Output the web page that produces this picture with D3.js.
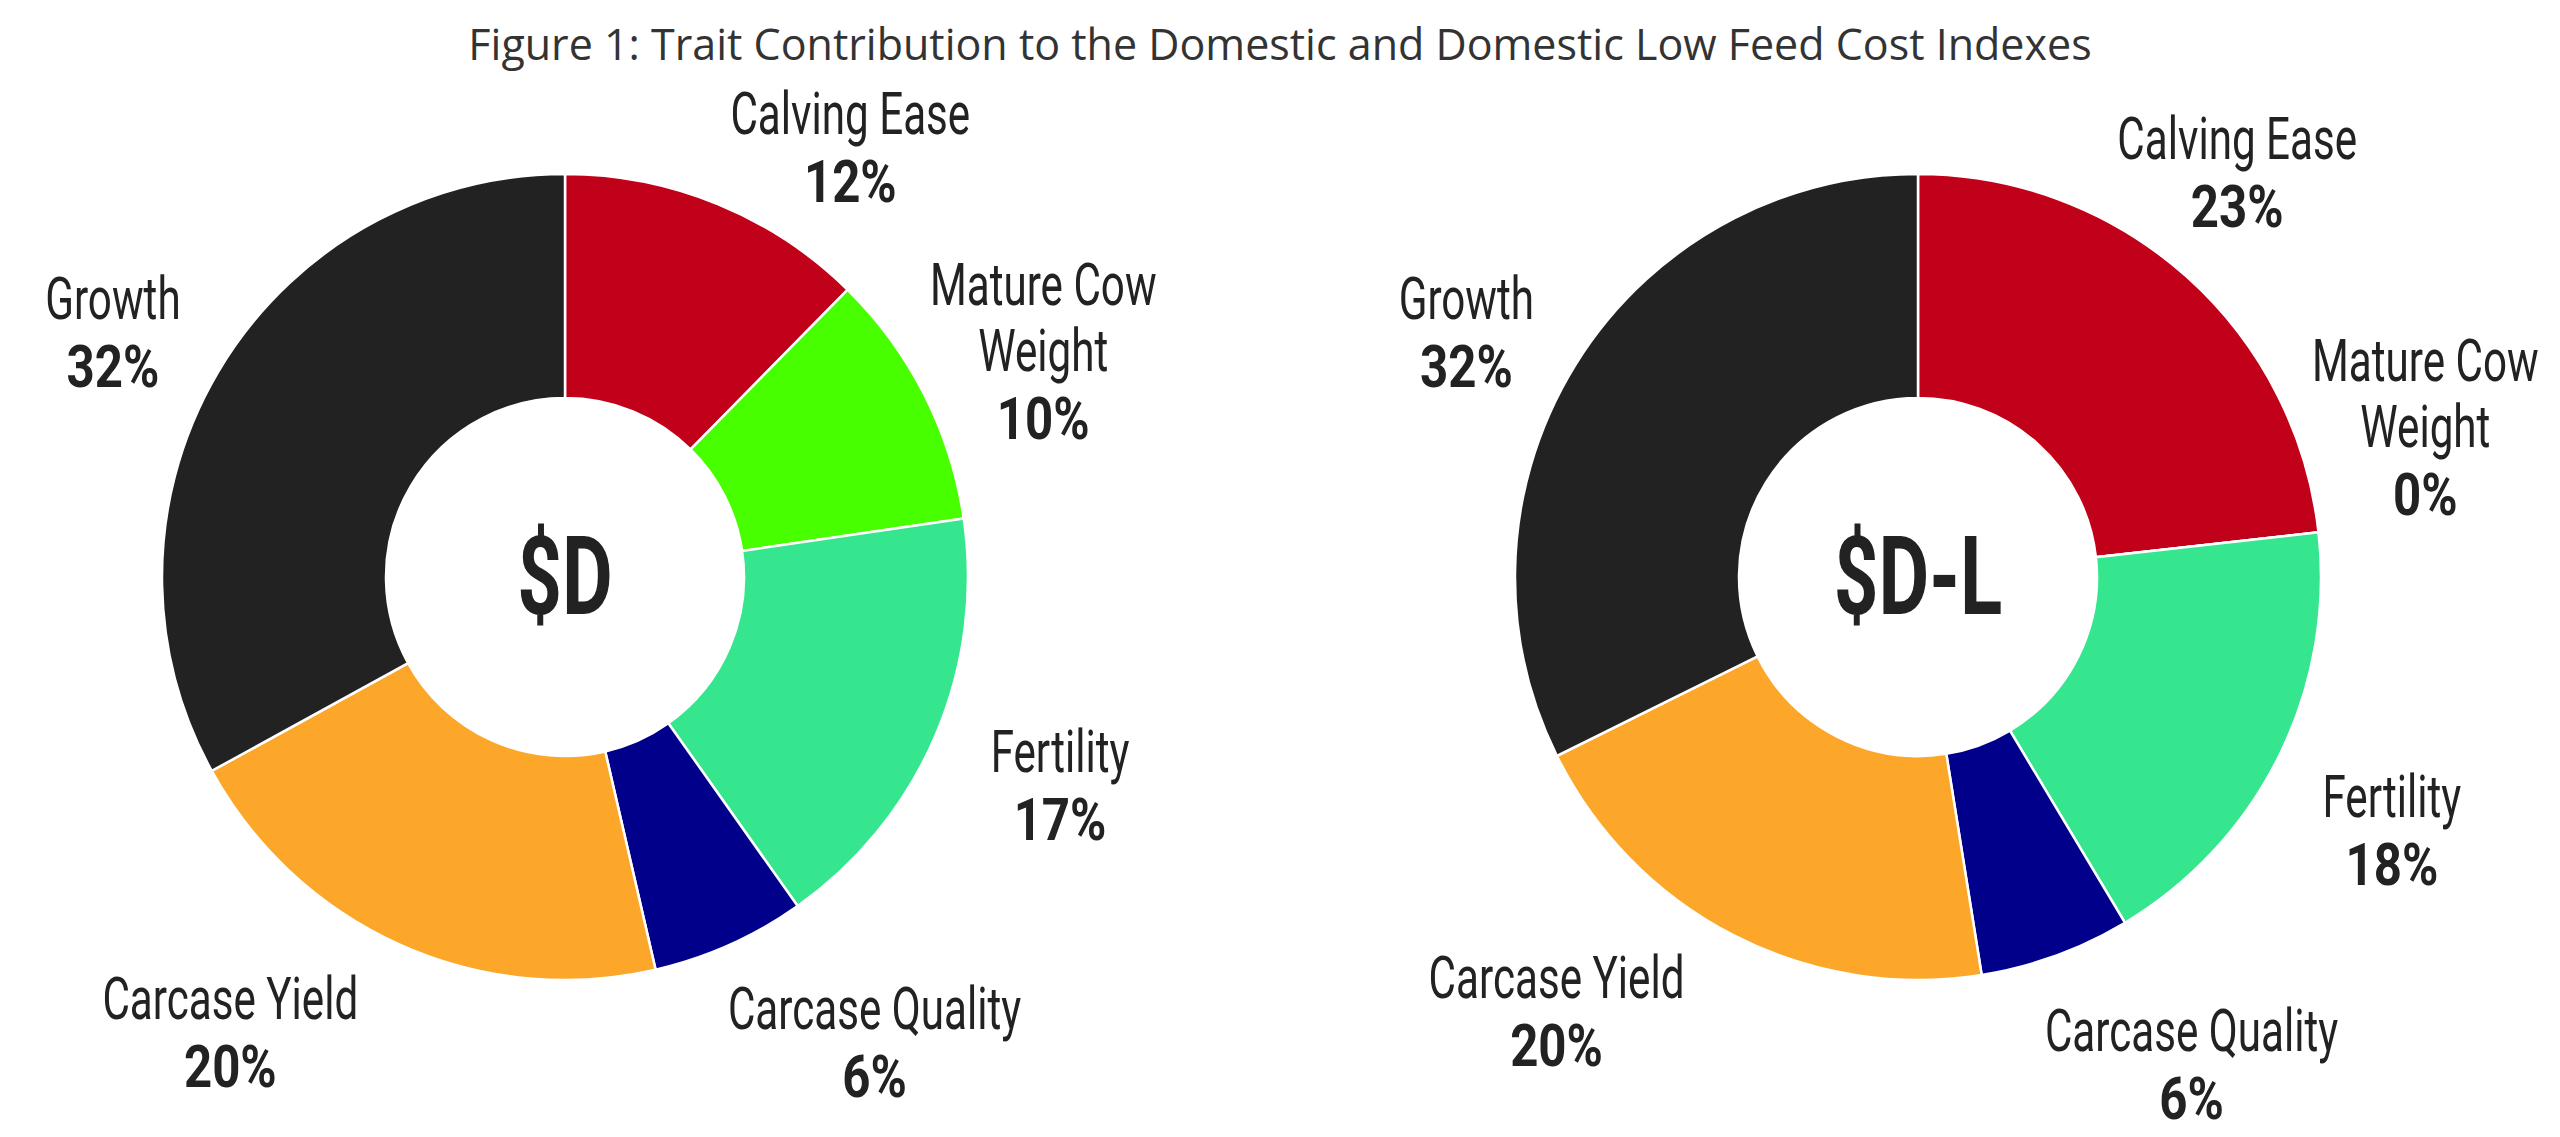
<!DOCTYPE html>
<html>
<head>
<meta charset="utf-8">
<script src="https://cdn.jsdelivr.net/npm/d3@7"></script>
<style>
	body { margin: 0; background: #fff; }
</style>
</head>
<body>
<div class="viz"></div>
<script>
let titleText = 'Figure 1: Trait Contribution to the Domestic and Domestic Low Feed Cost Indexes';
let categories = ['Calving Ease', 'Mature Cow Weight', 'Fertility', 'Carcase Quality', 'Carcase Yield', 'Growth'];
let domesticValues = [12, 10, 17, 6, 20, 32];
let lowFeedValues = [23, 0, 18, 6, 20, 32];
let indexNames = ['$D', '$D-L'];
let sliceColors = ['#c1001a', '#48ff00', '#36e68f', '#00008b', '#fca62a', '#222222'];

// labels were spread by hand in the original, so turn them a bit off the slice middle (degrees)
let labelTurn = [[11.3, 1.6, -0.4, -9.5, 12.2, -2.2], [-3.6, -10.1, 1.7, -9.3, 12.5, -3.3]];
let labelDist = [516, 529, 537, 559, 565, 514];

let width = 2560, height = 1137
	, centers = [565, 1918]
	, cy = 577
	, outerR = 403
	, innerR = 179
	, lineGap = 66
	, valueGap = 68;

let font = 'Roboto, "Liberation Sans", sans-serif';

let svg = d3.select('.viz').append('svg')
	.attr('width', width)
	.attr('height', height);

svg.append('text')
	.attr('x', width / 2)
	.attr('y', 60)
	.attr('text-anchor', 'middle')
	.style('font-family', '"Open Sans", sans-serif')
	.style('font-size', '43px')
	.attr('fill', '#333')
	.text(titleText);

let pie = d3.pie()
	.sort(null)
	.value(function(d) { return d.value; });

let arc = d3.arc()
	.innerRadius(innerR)
	.outerRadius(outerR);

function wrap(name) {
	if (name.length <= 15) return [name];
	let cut = name.lastIndexOf(' ');
	return [name.slice(0, cut), name.slice(cut + 1)];
}

[domesticValues, lowFeedValues].forEach(function(values, i) {
	let rows = categories.map(function(c, j) {
		return {name: c, value: values[j], color: sliceColors[j]};
	});
	let arcs = pie(rows);

	let g = svg.append('g')
		.attr('transform', 'translate(' + centers[i] + ',' + cy + ')');

	g.selectAll('path')
		.data(arcs)
		.enter().append('path')
		.attr('d', arc)
		.attr('fill', function(d) { return d.data.color; })
		.attr('stroke', '#fff')
		.attr('stroke-width', 2.5);

	g.append('text')
		.attr('transform', 'translate(0,37) scale(0.71,1)')
		.attr('text-anchor', 'middle')
		.style('font-family', font)
		.style('font-weight', 700)
		.style('font-size', '110px')
		.attr('fill', '#222')
		.text(indexNames[i]);

	let labels = g.selectAll('.label')
		.data(arcs)
		.enter().append('g')
		.attr('class', 'label')
		.attr('transform', function(d, j) {
			let a = (d.startAngle + d.endAngle) / 2 + labelTurn[i][j] * Math.PI / 180;
			return 'translate(' + (labelDist[j] * Math.sin(a)) + ',' + (-labelDist[j] * Math.cos(a)) + ')';
		});

	labels.each(function(d) {
		let lines = wrap(d.data.name);
		let top = -((lines.length - 1) * lineGap + valueGap - 42) / 2;
		let lg = d3.select(this);

		let name = lg.append('text')
			.attr('transform', 'translate(0,' + top + ') scale(0.715,1)')
			.attr('text-anchor', 'middle')
			.style('font-family', font)
			.style('font-size', '59px')
			.attr('fill', '#222');
		lines.forEach(function(line, k) {
			name.append('tspan')
				.attr('x', 0)
				.attr('y', k * lineGap)
				.text(line);
		});

		lg.append('text')
			.attr('transform', 'translate(0,' + (top + (lines.length - 1) * lineGap + valueGap) + ') scale(0.82,1)')
			.attr('text-anchor', 'middle')
			.style('font-family', font)
			.style('font-weight', 700)
			.style('font-size', '60px')
			.attr('fill', '#222')
			.text(d.data.value + '%');
	});
});
</script>
</body>
</html>
